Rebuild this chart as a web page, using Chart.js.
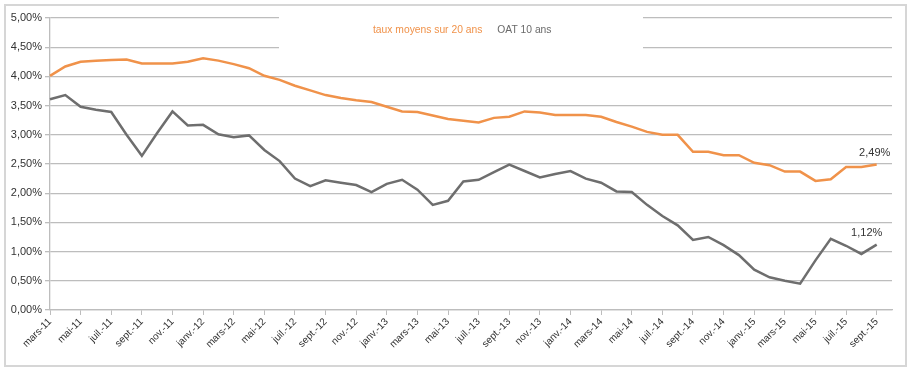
<!DOCTYPE html>
<html>
<head>
<meta charset="utf-8">
<script src="https://cdn.jsdelivr.net/npm/chart.js@4.4.0/dist/chart.umd.min.js"></script>
<style>
    body { margin: 0; background: #fff; }
    #frame { position: absolute; left: 4px; top: 4px; width: 899px; height: 359px; border: 2px solid #d6d6d6; }
    #wrap { position: absolute; left: 0; top: 0; width: 913px; height: 370px; }
</style>
</head>
<body>
<div id="frame"></div>
<div id="wrap"><canvas id="rateChart" width="913" height="370"></canvas></div>
<script>
// Monthly labels, mars-11 .. oct.-15 (the last slot has no data, as in the original)
const months = [
    "mars-11", "avr.-11", "mai-11", "juin-11", "juil.-11", "août-11", "sept.-11", "oct.-11", "nov.-11", "déc.-11",
    "janv.-12", "févr.-12", "mars-12", "avr.-12", "mai-12", "juin-12", "juil.-12", "août-12", "sept.-12", "oct.-12", "nov.-12", "déc.-12",
    "janv.-13", "févr.-13", "mars-13", "avr.-13", "mai-13", "juin-13", "juil.-13", "août-13", "sept.-13", "oct.-13", "nov.-13", "déc.-13",
    "janv.-14", "févr.-14", "mars-14", "avr.-14", "mai-14", "juin-14", "juil.-14", "août-14", "sept.-14", "oct.-14", "nov.-14", "déc.-14",
    "janv.-15", "févr.-15", "mars-15", "avr.-15", "mai-15", "juin-15", "juil.-15", "août-15", "sept.-15", "oct.-15"
];

// taux moyens sur 20 ans (%)
const taux20 = [
    4.01, 4.17, 4.25, 4.27, 4.28, 4.29, 4.22, 4.22, 4.22, 4.25,
    4.31, 4.27, 4.21, 4.14, 4.01, 3.94, 3.84, 3.76, 3.68, 3.63, 3.59, 3.56,
    3.48, 3.40, 3.39, 3.33, 3.27, 3.24, 3.21, 3.29, 3.31, 3.40, 3.38, 3.34,
    3.34, 3.34, 3.31, 3.22, 3.14, 3.05, 3.00, 3.00, 2.71, 2.71, 2.65, 2.65,
    2.52, 2.48, 2.37, 2.37, 2.21, 2.24, 2.45, 2.45, 2.49
];

// OAT 10 ans (%)
const oat10 = [
    3.61, 3.68, 3.48, 3.43, 3.39, 3.00, 2.64, 3.03, 3.40, 3.16,
    3.17, 3.01, 2.96, 2.99, 2.74, 2.55, 2.25, 2.12, 2.22, 2.18, 2.14, 2.02,
    2.16, 2.23, 2.06, 1.80, 1.87, 2.20, 2.23, 2.36, 2.49, 2.38, 2.27, 2.33,
    2.38, 2.25, 2.18, 2.03, 2.02, 1.80, 1.61, 1.45, 1.20, 1.25, 1.11, 0.94,
    0.69, 0.56, 0.50, 0.45, 0.85, 1.22, 1.10, 0.96, 1.12
];

const gridGrey = "#bdbdbd";
const fmt = v => v.toFixed(2).replace(".", ",") + "%";

// legend drawn in a white box that cuts the top gridlines
const legendBox = {
    id: "legendBox",
    beforeDatasetsDraw(chart) {
        const ctx = chart.ctx;
        ctx.save();
        ctx.fillStyle = "#fff";
        ctx.fillRect(279, 8, 364, 50);
        ctx.font = "10.3px 'Liberation Sans', Arial, sans-serif";
        ctx.textBaseline = "middle";
        let x = 373;
        chart.data.datasets.forEach(ds => {
            ctx.fillStyle = ds.legendColor;
            ctx.fillText(ds.label, x, 30);
            x += ctx.measureText(ds.label).width + 15;
        });
        ctx.restore();
    },
    afterDatasetsDraw(chart) {
        const ctx = chart.ctx;
        ctx.save();
        ctx.font = "11px 'Liberation Sans', Arial, sans-serif";
        ctx.fillStyle = "#333";
        ctx.textAlign = "center";
        ctx.textBaseline = "bottom";
        chart.data.datasets.forEach((ds, i) => {
            const meta = chart.getDatasetMeta(i);
            const last = ds.data.length - 1;
            const pt = meta.data[last];
            ctx.fillText(fmt(ds.data[last]), pt.x - ds.labelShift, pt.y - 6);
        });
        ctx.restore();
    }
};

const ctx = document.getElementById("rateChart").getContext("2d");
new Chart(ctx, {
    type: "line",
    data: {
        labels: months,
        datasets: [{
            label: "taux moyens sur 20 ans",
            data: taux20,
            borderColor: "#f0924a",
            legendColor: "#f0924a",
            labelShift: 2,
            borderWidth: 2.5,
            pointRadius: 0,
            tension: 0
        }, {
            label: "OAT 10 ans",
            data: oat10,
            borderColor: "#6e6e6e",
            legendColor: "#6a6a6a",
            labelShift: 10,
            borderWidth: 2.5,
            pointRadius: 0,
            tension: 0
        }]
    },
    options: {
        responsive: false,
        animation: false,
        layout: { padding: { left: 0, top: 18, right: 21, bottom: 0 } },
        plugins: {
            legend: { display: false },
            tooltip: { enabled: false }
        },
        scales: {
            x: {
                offset: false,
                afterFit: s => { s.height = 60; },
                grid: { drawOnChartArea: false, drawTicks: true, tickLength: 5, color: gridGrey },
                border: { color: gridGrey, width: 1.3 },
                ticks: {
                    autoSkip: false,
                    maxRotation: 45,
                    minRotation: 45,
                    padding: 1,
                    color: "#333",
                    font: { family: "'Liberation Sans', Arial, sans-serif", size: 10 },
                    callback: function (val, i) { return i % 2 === 0 ? this.getLabelForValue(val) : null; }
                }
            },
            y: {
                min: 0,
                max: 5,
                afterFit: s => { s.width = 50; },
                grid: { color: gridGrey, lineWidth: 1.3, tickLength: 5 },
                border: { color: gridGrey, width: 1.3 },
                ticks: {
                    stepSize: 0.5,
                    padding: 3,
                    color: "#333",
                    font: { family: "'Liberation Sans', Arial, sans-serif", size: 11 },
                    callback: v => fmt(v)
                }
            }
        }
    },
    plugins: [legendBox]
});
</script>
</body>
</html>
